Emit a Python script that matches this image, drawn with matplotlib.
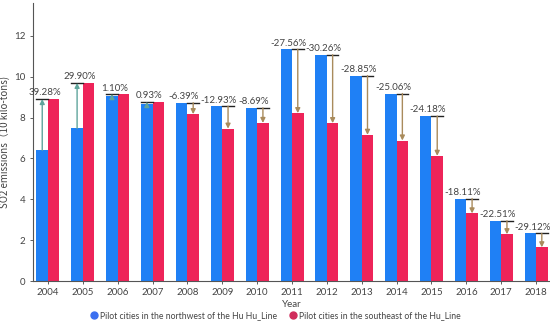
import matplotlib.pyplot as plt
import numpy as np
from matplotlib.lines import Line2D

years = ['2004', '2005', '2006', '2007', '2008', '2009', '2010', '2011',
         '2012', '2013', '2014', '2015', '2016', '2017', '2018']
northwest = [6.40, 7.47, 9.06, 8.68, 8.73, 8.56, 8.48, 11.35,
             11.08, 10.06, 9.18, 8.08, 4.04, 2.95, 2.33]
southeast = [8.91, 9.70, 9.15, 8.76, 8.17, 7.46, 7.74, 8.22,
             7.73, 7.16, 6.88, 6.13, 3.31, 2.29, 1.65]
changes = ['39.28%', '29.90%', '1.10%', '0.93%', '-6.39%', '-12.93%', '-8.69%', '-27.56%',
           '-30.26%', '-28.85%', '-25.06%', '-24.18%', '-18.11%', '-22.51%', '-29.12%']

plt.rcParams['font.family'] = ['Lato', 'DejaVu Sans']
txt = '#444444'

fig = plt.figure(figsize=(5.5, 3.26), dpi=100)
ax = fig.add_axes([0.06, 0.138, 0.94, 0.852])

x = np.arange(len(years))
w = 0.33
ax.bar(x - w / 2, northwest, w, color='#1f80f5', label='Pilot cities in the northwest of the Hu Hu_Line')
ax.bar(x + w / 2, southeast, w, color='#ee2459', label='Pilot cities in the southeast of the Hu_Line')

# arrows from the northwest level to the southeast level
for i in range(len(years)):
    b, r = northwest[i], southeast[i]
    if r >= b:
        xa = x[i] - w / 2
        col = '#5fa59c'
        top = r
    else:
        xa = x[i] + w / 2
        col = '#a98b5c'
        top = b
    ax.annotate('', xy=(xa, r), xytext=(xa, b),
                arrowprops=dict(arrowstyle='-|>', color=col, lw=1.0,
                                mutation_scale=7, shrinkA=0, shrinkB=0))
    ax.plot([xa - w / 2, xa + w / 2], [top, top], color='#222222', lw=1.0)
    ax.text(x[i] - 0.1, top + 0.08, changes[i], ha='center', va='bottom',
            fontsize=7, color=txt)

ax.set_xlim(-0.43, 14.4)
ax.set_ylim(0, 13.6)
ax.set_yticks(range(0, 13, 2))
ax.set_xticks(x)
ax.set_xticklabels(years)
ax.tick_params(labelsize=7, colors=txt, length=2, width=0.6)
ax.tick_params(axis='x', pad=3)
ax.set_xlabel('Year', fontsize=7, color=txt, labelpad=2)
ax.set_ylabel('SO2 emissions（10 kilo-tons)', fontsize=7, color=txt, labelpad=3,
              family=['Noto Sans CJK SC', 'DejaVu Sans'])
for s in ['top', 'right']:
    ax.spines[s].set_visible(False)
for s in ['left', 'bottom']:
    ax.spines[s].set_color('#555555')
    ax.spines[s].set_linewidth(0.8)

h, l = ax.get_legend_handles_labels()
handles = [Line2D([], [], marker='o', ls='', color='#3b6ff0', markersize=5),
           Line2D([], [], marker='o', ls='', color='#d02c5c', markersize=5)]
fig.legend(handles, l, loc='center', bbox_to_anchor=(0.5, 0.033), ncol=2,
           frameon=False, fontsize=6.2, labelcolor=txt, handletextpad=0.2,
           columnspacing=1.4, handlelength=1)

fig.savefig('out.png', dpi=100)
